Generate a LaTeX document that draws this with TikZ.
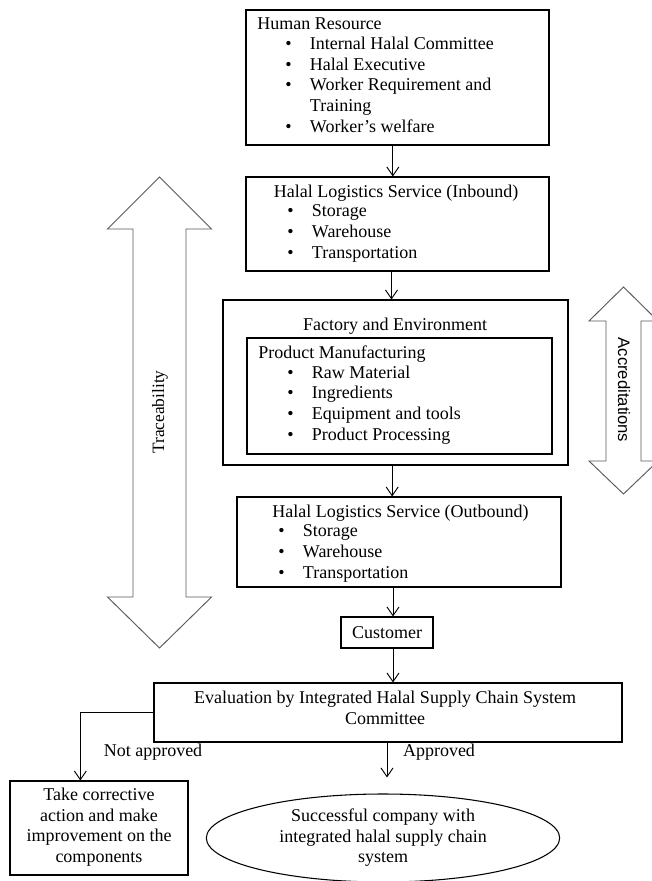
\documentclass[tikz,border=0pt]{standalone}
\usepackage{fontspec}
\setmainfont{Liberation Serif}
\setsansfont{Liberation Sans}
\usetikzlibrary{arrows.meta,fit,shapes.geometric}
\tikzset{
  box/.style={draw, line width=0.8pt, inner sep=0pt},
  txt/.style={inner sep=0pt, align=left, font=\fontsize{13.5}{15.4}\selectfont},
  flow/.style={-{Straight Barb[length=6.5pt,width=9pt]}, line width=0.7pt},
  bigarrow/.style={draw=black!65, line width=0.7pt, line join=miter},
}
\newcommand{\hitem}[1]{\makebox[18.5pt][l]{\textbullet}#1}

\begin{document}
\begin{tikzpicture}[x=0.75pt,y=-0.75pt]
\useasboundingbox (0,0) rectangle (652,881);
\clip (0,0) rectangle (652,881);

% boxes of the chain
\node[box, fit={(246,10)(549,145)}] (hr) {};
\node[box, fit={(246,177)(549,271)}] (inbound) {};
\node[box, fit={(223,300)(568,465)}] (factory) {};
\node[box, fit={(247,338)(552,454)}] (manuf) {};
\node[box, fit={(237,497)(561,587)}] (outbound) {};
\node[box, fit={(341,617)(433,648)}] (customer) {};
\node[box, fit={(154,683)(622,742)}] (evaluation) {};
\node[box, fit={(10,781)(188,875)}] (corrective) {};
\node[draw, ellipse, line width=0.8pt, minimum width=265pt, minimum height=66pt,
      txt, align=center] (success) at (383,838)
  {Successful company with\\integrated halal supply chain\\system};

% texts (lists are placed by the baseline of their last line)
\node[txt, anchor=base west] (hrtitle) at (257,30) {Human Resource};
\node[txt, anchor=base west] (hrlist) at (285,132)
  {\hitem{Internal Halal Committee}\\ \hitem{Halal Executive}\\
   \hitem{Worker Requirement and}\\ \hspace*{18.5pt}Training\\ \hitem{Worker’s welfare}};

\node[txt, anchor=base] (intitle) at (396,197) {Halal Logistics Service (Inbound)};
\node[txt, anchor=base west] (inlist) at (287,258)
  {\hitem{Storage}\\ \hitem{Warehouse}\\ \hitem{Transportation}};

\node[txt, anchor=base] (factitle) at (395,330) {Factory and Environment};
\node[txt, anchor=base west] (mantitle) at (258,358) {Product Manufacturing};
\node[txt, anchor=base west] (manlist) at (287,440)
  {\hitem{Raw Material}\\ \hitem{Ingredients}\\ \hitem{Equipment and tools}\\ \hitem{Product Processing}};

\node[txt, anchor=base west] (outtitle) at (272,517) {Halal Logistics Service (Outbound)};
\node[txt, anchor=base west] (outlist) at (278,578)
  {\hitem{Storage}\\ \hitem{Warehouse}\\ \hitem{Transportation}};

\node[txt] (custext) at (387,632.5) {Customer};
\node[txt, align=center] (evaltext) at (385,708)
  {Evaluation by Integrated Halal Supply Chain System\\Committee};
\node[txt, align=center] (cortext) at (99,827)
  {Take corrective\\action and make\\improvement on the\\components};
\node[txt] (notok) at (153,752) {Not approved};
\node[txt] (ok) at (439,752) {Approved};

% connectors
\draw[flow] ([xshift=-3.5pt]hr.south) -- ([xshift=-3.5pt]inbound.north);
\draw[flow] ([xshift=-4.5pt]inbound.south) -- ([xshift=-4.5pt]inbound.south |- factory.north);
\draw[flow] ([xshift=-2.5pt]factory.south) -- ([xshift=-2.5pt]factory.south |- outbound.north);
\draw[flow] ([xshift=4.5pt]customer.north |- outbound.south) -- ([xshift=4.5pt]customer.north);
\draw[flow] ([xshift=4.5pt]customer.south) -- ([xshift=4.5pt]customer.south |- evaluation.north);
\draw[flow] (evaluation.west) -| ([xshift=-14pt]corrective.north);
\draw[flow] ([xshift=3pt]success.north |- evaluation.south) -- ([xshift=3pt,yshift=12pt]success.north);

% side arrows
\draw[bigarrow] (159.5,177) -- (211.5,229) -- (186,229) -- (186,597) -- (211.5,597)
  -- (159.5,648) -- (107.5,597) -- (133,597) -- (133,229) -- (107.5,229) -- cycle;
\node[rotate=90, inner sep=0pt, font=\fontsize{13}{15}\selectfont] (trace) at (160,412) {Traceability};

\draw[bigarrow] (623.5,287) -- (658,321) -- (641,321) -- (641,461) -- (658,461)
  -- (623.5,494) -- (589,461) -- (606,461) -- (606,321) -- (589,321) -- cycle;
\node[rotate=-90, inner sep=0pt, font=\sffamily\fontsize{12.5}{14}\selectfont] (accred) at (624,390) {Accreditations};
\end{tikzpicture}
\end{document}
